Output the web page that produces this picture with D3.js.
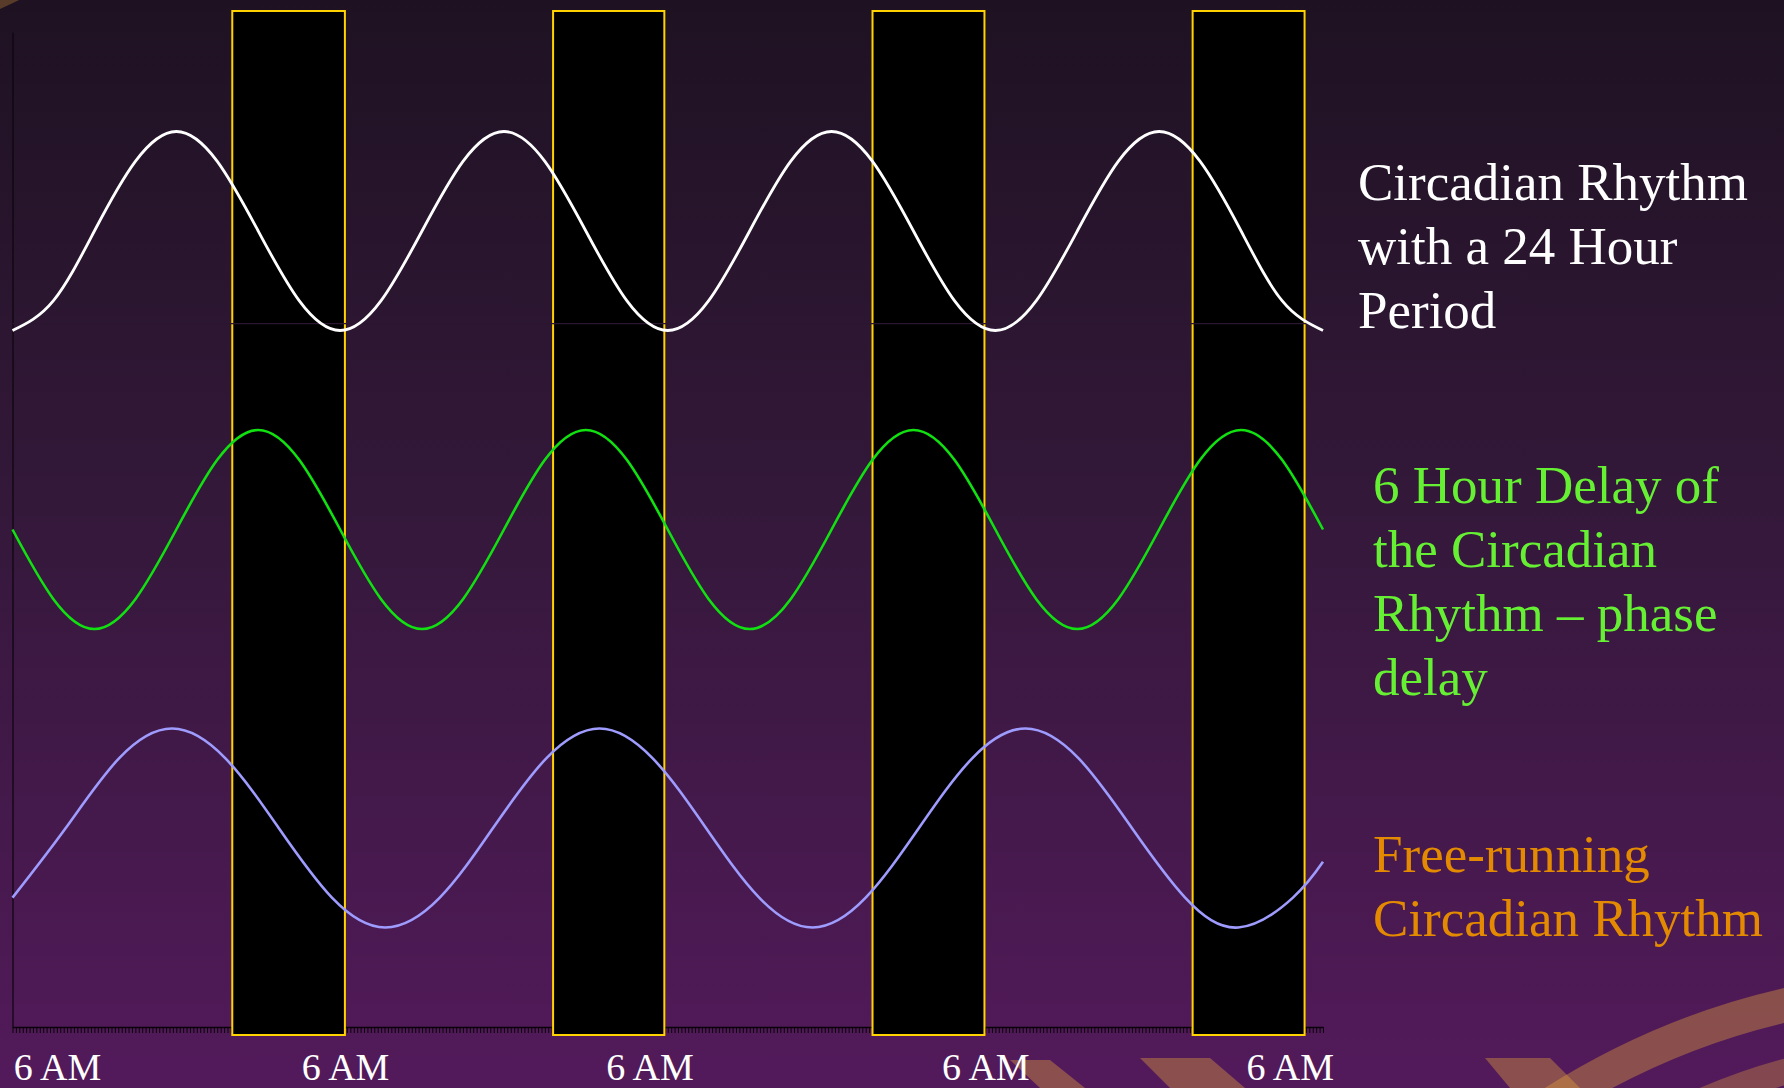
<!DOCTYPE html>
<html>
<head>
<meta charset="utf-8">
<script src="https://cdn.jsdelivr.net/npm/d3@7/dist/d3.min.js"></script>
<style>
  html, body { margin: 0; padding: 0; background: #2a1530; }
  svg { display: block; }
</style>
</head>
<body>
<svg id="chart" width="1784" height="1088"></svg>
<script>
// ---------------- DATA ----------------
// time in hours from the first 6 AM
const entrainedHours = [0,3,6,9,12,15,18,21,24,27,30,33,36,39,42,45,48,51,54,57,60,63,66,69,72,75,78,81,84,87,90,93,96];
// 24 h circadian rhythm (white), level units
const rhythm24 = [7,7.3,8,8.7,9,8.7,8,7.3, 7,7.3,8,8.7,9,8.7,8,7.3, 7,7.3,8,8.7,9,8.7,8,7.3, 7,7.3,8,8.7,9,8.7,8,7.3, 7];
// 6 hour phase delay (green)
const rhythmDelay = [5,4.3,4,4.3,5,5.7,6,5.7, 5,4.3,4,4.3,5,5.7,6,5.7, 5,4.3,4,4.3,5,5.7,6,5.7, 5,4.3,4,4.3,5,5.7,6,5.7, 5];
// free-running rhythm (lavender)
const freeHours = [0,3.9,7.8,11.7,15.6,19.5,23.4,27.3,31.3,35.2,39.1,43.0,46.9,50.8,54.7,58.6,62.5,66.4,70.3,74.2,78.1,82.0,85.9,89.8,93.8,96];
const rhythmFree = [1.3,2,2.7,3,2.7,2,1.3,1,1.3,2,2.7,3,2.7,2,1.3,1,1.3,2,2.7,3,2.7,2,1.3,1,1.3,1.66];
// dark (night) periods
const darkStart = [16.1, 39.6, 63.0, 86.45];
const darkEnd   = [24.35, 47.75, 71.2, 94.65];
// axis labels
const tickLabelHours = [3.3, 24.4, 46.7, 71.3, 93.6];
const tickLabels = ["6 AM", "6 AM", "6 AM", "6 AM", "6 AM"];
// faint reference level
const refLevel = 7.07;
// legend texts
const legendWhite = ["Circadian Rhythm", "with a 24 Hour", "Period"];
const legendGreen = ["6 Hour Delay of", "the Circadian", "Rhythm \u2013 phase", "delay"];
const legendOrange = ["Free-running", "Circadian Rhythm"];

// ---------------- DRAW ----------------
const svg = d3.select("#chart");
const W = 1784, H = 1088;

const defs = svg.append("defs");
const bg = defs.append("linearGradient").attr("id", "bg")
  .attr("x1", 0).attr("y1", 0).attr("x2", 0).attr("y2", 1);
bg.append("stop").attr("offset", "0%").attr("stop-color", "#1e1222");
bg.append("stop").attr("offset", "45%").attr("stop-color", "#331839");
bg.append("stop").attr("offset", "100%").attr("stop-color", "#531a5b");

svg.append("rect").attr("width", W).attr("height", H).attr("fill", "url(#bg)");

// decorative bands (background artwork)
const band = "rgba(224,160,60,0.40)";
const deco = svg.append("g").attr("fill", band).attr("stroke", "none");
deco.append("path").attr("d", "M1010,1060 L1050,1060 L1085,1088 L1040,1088 Z");
deco.append("path").attr("d", "M1140,1058 L1210,1058 L1245,1088 L1170,1088 Z");
deco.append("path").attr("d", "M1485,1058 L1550,1058 L1580,1088 L1510,1088 Z");
svg.append("path")
  .attr("d", "M1545,1108 Q1665,1030 1800,1002")
  .attr("fill", "none").attr("stroke", band).attr("stroke-width", 34);
svg.append("path")
  .attr("d", "M1700,1102 Q1750,1080 1800,1068")
  .attr("fill", "none").attr("stroke", "rgba(224,160,60,0.35)").attr("stroke-width", 26);
svg.append("path")
  .attr("d", "M-10,8 Q8,0 20,-6")
  .attr("fill", "none").attr("stroke", "rgba(224,160,60,0.30)").attr("stroke-width", 10);

const x = d3.scaleLinear().domain([0, 96]).range([12.5, 1323]);
const y = d3.scaleLinear().domain([0, 10]).range([1027, 32]);

// x axis with dense minor ticks (every 15 minutes)
const xAxis = d3.axisBottom(x)
  .tickValues(d3.range(0, 96.01, 0.25))
  .tickSize(6).tickSizeOuter(0).tickFormat("");
const gx = svg.append("g").attr("transform", `translate(0,${y(0)})`).call(xAxis);
gx.select(".domain").attr("stroke", "#0a040a").attr("stroke-width", 1.5);
gx.selectAll(".tick line").attr("stroke", "#0a040a").attr("stroke-width", 1);

// y axis line
const yAxis = d3.axisLeft(y).tickValues([]).tickSizeOuter(0);
const gy = svg.append("g").attr("transform", `translate(${x(0)},0)`).call(yAxis);
gy.select(".domain").attr("stroke", "#0c050c").attr("stroke-width", 1.2);

// night rectangles
const nights = darkStart.map((s, i) => ({ s, e: darkEnd[i] }));
svg.append("g").selectAll("rect").data(nights).join("rect")
  .attr("x", d => x(d.s))
  .attr("y", 11)
  .attr("width", d => x(d.e) - x(d.s))
  .attr("height", 1035 - 11)
  .attr("fill", "#000000")
  .attr("stroke", "#ffd200")
  .attr("stroke-width", 2);

// faint reference line (only noticeable over the dark bars)
svg.append("line")
  .attr("x1", x(0)).attr("x2", x(96))
  .attr("y1", y(refLevel)).attr("y2", y(refLevel))
  .attr("stroke", "#2b1630").attr("stroke-width", 1.2);

// curves
const line = d3.line().x(d => x(d[0])).y(d => y(d[1])).curve(d3.curveNatural);
const series = [
  { pts: d3.zip(entrainedHours, rhythm24), color: "#ffffff", w: 2.8 },
  { pts: d3.zip(entrainedHours, rhythmDelay), color: "#11e011", w: 2.6 },
  { pts: d3.zip(freeHours, rhythmFree), color: "#9f9cff", w: 2.6 }
];
svg.append("g").selectAll("path").data(series).join("path")
  .attr("d", d => line(d.pts))
  .attr("fill", "none")
  .attr("stroke", d => d.color)
  .attr("stroke-width", d => d.w)
  .attr("stroke-linejoin", "round");

// tick labels
svg.append("g").selectAll("text").data(tickLabelHours).join("text")
  .attr("x", d => x(d))
  .attr("y", 1080)
  .attr("text-anchor", "middle")
  .attr("font-family", "'Liberation Serif', 'Times New Roman', serif")
  .attr("font-size", 38)
  .attr("fill", "#ffffff")
  .text((d, i) => tickLabels[i]);

// legend blocks
function legend(lines, x0, y0, color) {
  const t = svg.append("text")
    .attr("font-family", "'Liberation Serif', 'Times New Roman', serif")
    .attr("font-size", 53)
    .attr("fill", color);
  lines.forEach((s, i) => {
    t.append("tspan").attr("x", x0).attr("y", y0 + i * 64).text(s);
  });
}
legend(legendWhite, 1358, 200, "#ffffff");
legend(legendGreen, 1373, 503, "#66f033");
legend(legendOrange, 1373, 872, "#e38a00");
</script>
</body>
</html>
